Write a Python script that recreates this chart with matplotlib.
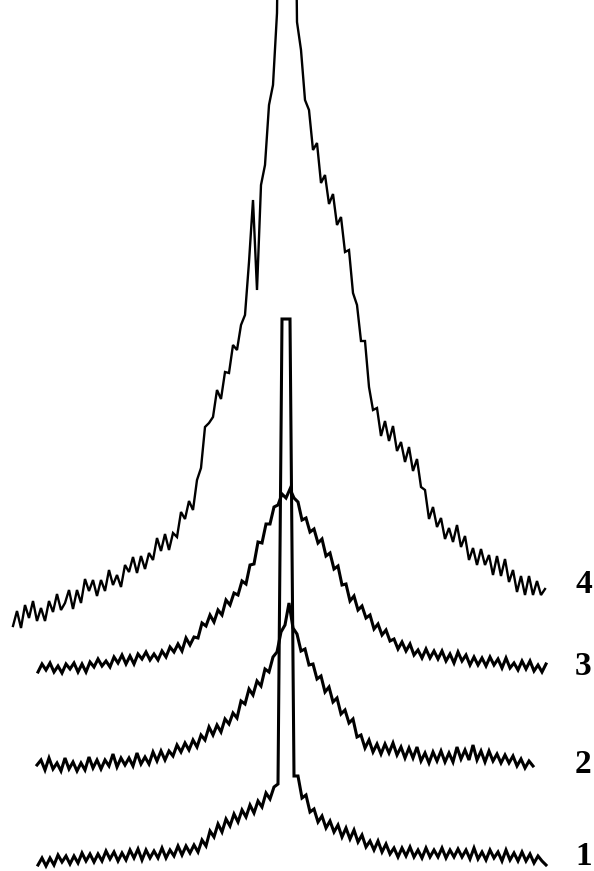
import numpy as np
import matplotlib
matplotlib.use("Agg")
import matplotlib.pyplot as plt

# spectra, intensity in arbitrary units, sampled every 4 channels
x4 = np.arange(13, 546, 4)
y4 = [245, 260, 243, 266, 253, 270, 250, 263, 250, 270,
      259, 277, 261, 268, 281, 262, 281, 268, 292, 280,
      291, 275, 291, 280, 301, 286, 296, 284, 306, 299,
      314, 298, 315, 302, 318, 311, 333, 320, 337, 321,
      338, 334, 359, 352, 370, 361, 391, 403, 444, 448,
      454, 481, 472, 499, 498, 526, 521, 546, 556, 609,
      671, 581, 686, 706, 766, 786, 858, 1200, 1200, 1200,
      1200, 849, 821, 771, 761, 721, 728, 688, 696, 667,
      677, 646, 654, 619, 621, 578, 566, 530, 530, 484,
      461, 463, 435, 450, 430, 445, 420, 429, 409, 424,
      400, 412, 384, 381, 352, 364, 344, 353, 332, 343,
      329, 346, 324, 335, 311, 323, 306, 322, 306, 316,
      296, 315, 295, 312, 289, 301, 279, 295, 276, 295,
      276, 290, 276, 282]

x3 = np.arange(38, 547, 4)
y3 = [199, 207, 201, 208, 199, 205, 198, 207, 202, 208,
      199, 207, 199, 209, 204, 212, 205, 210, 204, 214,
      208, 216, 207, 215, 207, 217, 212, 219, 211, 217,
      211, 220, 214, 224, 219, 227, 220, 233, 226, 234,
      233, 248, 245, 256, 249, 261, 256, 271, 266, 278,
      276, 290, 287, 306, 307, 329, 328, 347, 347, 364,
      366, 377, 373, 382, 373, 369, 351, 353, 339, 342,
      328, 332, 315, 318, 302, 305, 286, 287, 270, 275,
      261, 265, 253, 256, 242, 247, 236, 241, 230, 232,
      222, 229, 220, 227, 216, 221, 213, 222, 213, 220,
      212, 220, 210, 217, 208, 219, 210, 216, 206, 214,
      206, 213, 205, 214, 206, 212, 203, 213, 203, 208,
      201, 210, 202, 210, 200, 206, 199, 207]

x2 = np.arange(37, 534, 4)
y2 = [106, 111, 101, 113, 102, 108, 100, 113, 102, 109,
      100, 108, 101, 114, 103, 111, 102, 111, 105, 117,
      104, 113, 106, 113, 105, 118, 107, 114, 107, 119,
      110, 120, 111, 120, 115, 126, 119, 128, 121, 131,
      124, 136, 131, 144, 136, 146, 139, 152, 147, 158,
      153, 170, 167, 182, 176, 190, 185, 202, 199, 214,
      219, 239, 246, 268, 243, 237, 220, 222, 206, 207,
      192, 195, 179, 184, 169, 173, 157, 161, 148, 152,
      134, 136, 123, 131, 119, 127, 117, 127, 118, 128,
      116, 124, 113, 123, 113, 124, 110, 118, 108, 119,
      110, 120, 109, 118, 109, 124, 112, 121, 111, 126,
      111, 120, 109, 120, 110, 117, 108, 116, 108, 115,
      105, 112, 103, 110, 105]

x1 = np.arange(38, 547, 4)
y1 = [6, 13, 5, 13, 6, 16, 9, 15, 7, 15,
      8, 18, 10, 17, 9, 17, 10, 20, 12, 19,
      10, 18, 11, 21, 13, 22, 11, 21, 13, 20,
      13, 23, 13, 21, 15, 25, 16, 25, 18, 26,
      19, 31, 25, 40, 34, 47, 39, 52, 45, 57,
      49, 61, 54, 66, 58, 70, 64, 78, 72, 84,
      87, 552, 552, 552, 95, 95, 73, 76, 59, 62,
      49, 55, 43, 50, 39, 46, 34, 43, 32, 41,
      29, 36, 24, 30, 21, 30, 19, 27, 17, 23,
      14, 23, 15, 24, 14, 21, 13, 23, 14, 21,
      14, 23, 13, 21, 14, 22, 14, 21, 12, 23,
      12, 19, 11, 21, 13, 19, 10, 21, 11, 18,
      10, 19, 10, 17, 8, 15, 10, 6]

labels = ["1", "2", "3", "4"]
label_pos = [6, 98, 196, 278]

fig = plt.figure(figsize=(5.94, 8.71), dpi=100)
ax = fig.add_axes([0, 0, 1, 1])

for xs, ys in [(x1, y1), (x2, y2), (x3, y3)]:
    ax.plot(xs, ys, color="black", lw=2.2, solid_joinstyle="miter")
# top trace is noisier and drawn thinner in the original
ax.plot(x4, y4, color="black", lw=1.7, solid_joinstyle="miter")

for lab, yp in zip(labels, label_pos):
    ax.text(575, yp, lab, fontsize=24, fontweight="bold",
            family="Liberation Serif", ha="left", va="baseline")

ax.set_xlim(0, 594)
ax.set_ylim(0, 871)
ax.axis("off")

fig.savefig("out.png", dpi=100)
